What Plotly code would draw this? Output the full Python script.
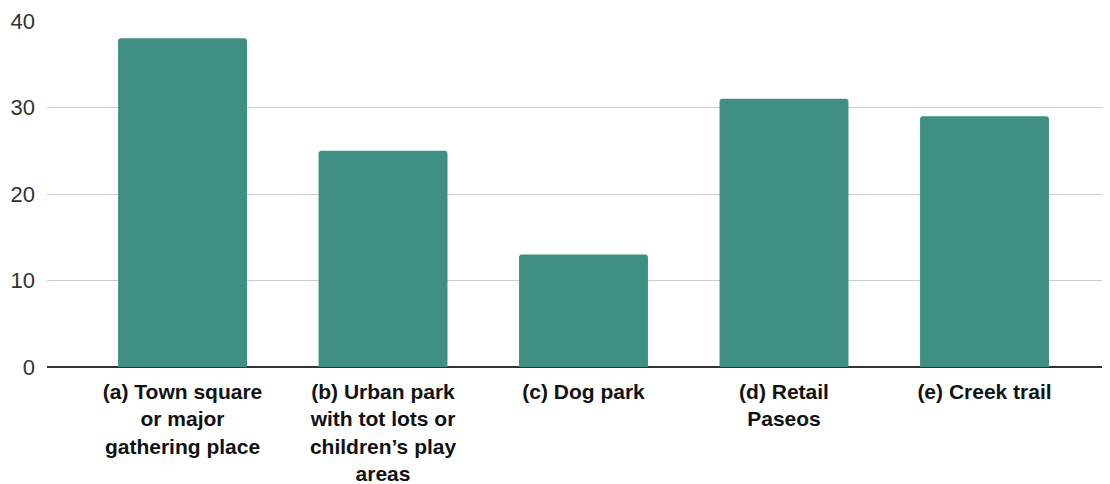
import plotly.graph_objects as go

categories = [
    "(a) Town square<br>or major<br>gathering place",
    "(b) Urban park<br>with tot lots or<br>children’s play<br>areas",
    "(c) Dog park",
    "(d) Retail<br>Paseos",
    "(e) Creek trail",
]
values = [38, 25, 13, 31, 29]
y_ticks = [0, 10, 20, 30, 40]

fig = go.Figure(
    go.Bar(
        x=list(range(len(categories))),
        y=values,
        width=0.643,
        marker=dict(color="#3f9082", line=dict(width=0), cornerradius=3),
        hoverinfo="skip",
    )
)

# the page has an 8px body margin, so the figure is drawn from (8, 8)
fig.update_layout(
    width=1102,
    height=476,
    margin=dict(l=39, r=0, t=13, b=117),
    paper_bgcolor="white",
    plot_bgcolor="white",
    showlegend=False,
    font=dict(family="Liberation Sans, Arial, sans-serif", color="#222222"),
)

fig.update_xaxes(
    range=[-0.676, 4.626],
    tickmode="array",
    tickvals=list(range(len(categories))),
    ticktext=["<b>" + c.replace("<br>", "</b><br><b>") + "</b>" for c in categories],
    tickfont=dict(size=21, color="#111111"),
    showgrid=False,
    zeroline=False,
    showline=False,
    ticks="",
    tickangle=0,
    ticklabelstandoff=10,
    automargin=False,
)

fig.update_yaxes(
    range=[0, 40],
    tickmode="array",
    tickvals=y_ticks,
    ticktext=[str(v) for v in y_ticks],
    tickfont=dict(size=22, color="#333333"),
    showgrid=True,
    gridcolor="#cccccc",
    gridwidth=1,
    zeroline=True,
    zerolinecolor="#333333",
    zerolinewidth=1.6,
    showline=False,
    ticks="",
    ticklabelstandoff=11,
    automargin=False,
)

fig.write_html("out.html")
